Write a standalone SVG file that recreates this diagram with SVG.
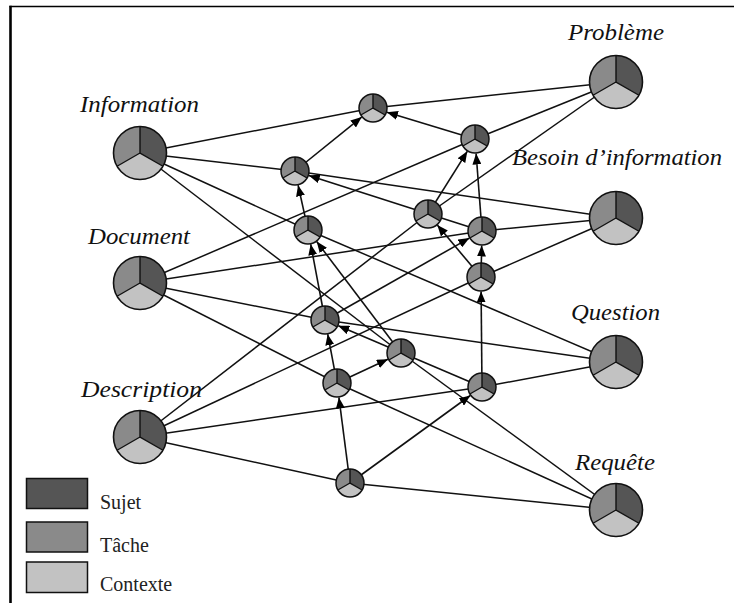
<svg xmlns="http://www.w3.org/2000/svg" xmlns:xlink="http://www.w3.org/1999/xlink" width="734" height="603" viewBox="0 0 734 603">
<style>
.bg{fill:#fff}
.frame{stroke:#000;fill:none}
.ln{stroke:#111;stroke-width:1.5;fill:none}
.ar{stroke:#111;stroke-width:1.6;fill:none;marker-end:url(#ah)}
.s{fill:#555555}
.t{fill:#8a8a8a}
.c{fill:#c2c2c2}
.sep{stroke:#111;stroke-width:1.4;fill:none}
.lab{font-family:"Liberation Serif","Times New Roman",serif;font-style:italic;font-size:24px;fill:#111}
.leg{font-family:"Liberation Serif","Times New Roman",serif;font-size:20px;fill:#222}
.box{stroke:#111;stroke-width:1.5}
</style>
<defs>
<marker id="ah" markerUnits="userSpaceOnUse" markerWidth="11" markerHeight="9" viewBox="0 0 11 9" refX="11" refY="4.5" orient="auto">
<path d="M0,0 L11,4.5 L0,9 Z" fill="#000"/>
</marker>
<g id="big">
<path class="s" d="M0,0 L0,-26.5 A26.5,26.5 0 0,1 22.95,13.25 Z"/>
<path class="c" d="M0,0 L22.95,13.25 A26.5,26.5 0 0,1 -22.95,13.25 Z"/>
<path class="t" d="M0,0 L-22.95,13.25 A26.5,26.5 0 0,1 0,-26.5 Z"/>
<path class="sep" d="M0,-26.5 L0,0 L22.95,13.25 M0,0 L-22.95,13.25"/>
<circle r="26.5" fill="none" stroke="#111" stroke-width="1.6"/>
</g>
<g id="sm">
<path class="s" d="M0,0 L0,-14 A14,14 0 0,1 12.12,7 Z"/>
<path class="c" d="M0,0 L12.12,7 A14,14 0 0,1 -12.12,7 Z"/>
<path class="t" d="M0,0 L-12.12,7 A14,14 0 0,1 0,-14 Z"/>
<path class="sep" d="M0,-14 L0,0 L12.12,7 M0,0 L-12.12,7"/>
<circle r="14" fill="none" stroke="#111" stroke-width="1.5"/>
</g>
</defs>
<rect class="bg" width="734" height="603"/>
<g id="frame">
<line class="frame" x1="9.5" y1="6.5" x2="734" y2="6.5" stroke-width="1.6"/>
<line class="frame" x1="10.5" y1="5.7" x2="10.5" y2="603" stroke-width="2.6"/>
</g>
<g id="connectors">
<line class="ln" x1="140" y1="153" x2="373" y2="108"/>
<line class="ln" x1="140" y1="153" x2="295" y2="171"/>
<line class="ln" x1="140" y1="153" x2="308" y2="230"/>
<line class="ln" x1="140" y1="153" x2="401" y2="353"/>
<line class="ln" x1="140" y1="283" x2="475" y2="139"/>
<line class="ln" x1="140" y1="283" x2="482" y2="231"/>
<line class="ln" x1="140" y1="283" x2="325" y2="320"/>
<line class="ln" x1="140" y1="283" x2="337" y2="383"/>
<line class="ln" x1="140" y1="437" x2="428" y2="214"/>
<line class="ln" x1="140" y1="437" x2="481" y2="277"/>
<line class="ln" x1="140" y1="437" x2="482" y2="387"/>
<line class="ln" x1="140" y1="437" x2="350" y2="483"/>
<line class="ln" x1="616" y1="82" x2="373" y2="108"/>
<line class="ln" x1="616" y1="82" x2="475" y2="139"/>
<line class="ln" x1="616" y1="82" x2="428" y2="214"/>
<line class="ln" x1="616" y1="218" x2="295" y2="171"/>
<line class="ln" x1="616" y1="218" x2="482" y2="231"/>
<line class="ln" x1="616" y1="218" x2="481" y2="277"/>
<line class="ln" x1="616" y1="362" x2="308" y2="230"/>
<line class="ln" x1="616" y1="362" x2="325" y2="320"/>
<line class="ln" x1="616" y1="362" x2="482" y2="387"/>
<line class="ln" x1="616" y1="510" x2="401" y2="353"/>
<line class="ln" x1="616" y1="510" x2="337" y2="383"/>
<line class="ln" x1="616" y1="510" x2="350" y2="483"/>
<line class="ar" x1="295" y1="171" x2="361.7" y2="117.1"/>
<line class="ar" x1="475" y1="139" x2="386.9" y2="112.2"/>
<line class="ar" x1="428" y1="214" x2="467.3" y2="151.3"/>
<line class="ar" x1="482" y1="231" x2="476.1" y2="153.5"/>
<line class="ar" x1="482" y1="231" x2="308.8" y2="175.4"/>
<line class="ar" x1="308" y1="230" x2="298.1" y2="185.2"/>
<line class="ar" x1="481" y1="277" x2="481.7" y2="245.5"/>
<line class="ar" x1="481" y1="277" x2="437.3" y2="225.1"/>
<line class="ar" x1="325" y1="320" x2="310.7" y2="244.2"/>
<line class="ar" x1="325" y1="320" x2="469.4" y2="238.1"/>
<line class="ar" x1="401" y1="353" x2="316.7" y2="241.6"/>
<line class="ar" x1="337" y1="383" x2="327.7" y2="334.2"/>
<line class="ar" x1="337" y1="383" x2="387.9" y2="359.2"/>
<line class="ar" x1="482" y1="387" x2="338.3" y2="325.7"/>
<line class="ar" x1="482" y1="387" x2="481.1" y2="291.5"/>
<line class="ar" x1="350" y1="483" x2="470.3" y2="395.5"/>
<line class="ar" x1="350" y1="483" x2="338.9" y2="397.4"/>
</g>
<g id="n-information"><use xlink:href="#big" x="140" y="153"/><text class="lab" x="80" y="112" textLength="119" lengthAdjust="spacingAndGlyphs">Information</text></g>
<g id="n-document"><use xlink:href="#big" x="140" y="283"/><text class="lab" x="88" y="244" textLength="102" lengthAdjust="spacingAndGlyphs">Document</text></g>
<g id="n-description"><use xlink:href="#big" x="140" y="437"/><text class="lab" x="81" y="397" textLength="121" lengthAdjust="spacingAndGlyphs">Description</text></g>
<g id="n-probleme"><use xlink:href="#big" x="616" y="82"/><text class="lab" x="568" y="40" textLength="96" lengthAdjust="spacingAndGlyphs">Problème</text></g>
<g id="n-besoin"><use xlink:href="#big" x="616" y="218"/><text class="lab" x="512" y="165" textLength="210" lengthAdjust="spacingAndGlyphs">Besoin d’information</text></g>
<g id="n-question"><use xlink:href="#big" x="616" y="362"/><text class="lab" x="571" y="320" textLength="89" lengthAdjust="spacingAndGlyphs">Question</text></g>
<g id="n-requete"><use xlink:href="#big" x="616" y="510"/><text class="lab" x="575" y="470" textLength="80" lengthAdjust="spacingAndGlyphs">Requête</text></g>
<g id="m-info-prob"><use xlink:href="#sm" x="373" y="108"/></g>
<g id="m-doc-prob"><use xlink:href="#sm" x="475" y="139"/></g>
<g id="m-desc-prob"><use xlink:href="#sm" x="428" y="214"/></g>
<g id="m-info-besoin"><use xlink:href="#sm" x="295" y="171"/></g>
<g id="m-doc-besoin"><use xlink:href="#sm" x="482" y="231"/></g>
<g id="m-desc-besoin"><use xlink:href="#sm" x="481" y="277"/></g>
<g id="m-info-question"><use xlink:href="#sm" x="308" y="230"/></g>
<g id="m-doc-question"><use xlink:href="#sm" x="325" y="320"/></g>
<g id="m-desc-question"><use xlink:href="#sm" x="482" y="387"/></g>
<g id="m-info-requete"><use xlink:href="#sm" x="401" y="353"/></g>
<g id="m-doc-requete"><use xlink:href="#sm" x="337" y="383"/></g>
<g id="m-desc-requete"><use xlink:href="#sm" x="350" y="483"/></g>
<g id="legend">
<rect class="box s" x="26.5" y="478.5" width="61" height="30"/>
<rect class="box t" x="26.5" y="522" width="61" height="30"/>
<rect class="box c" x="26.5" y="562" width="61" height="30.5"/>
<text class="leg" x="100" y="509">Sujet</text>
<text class="leg" x="100" y="552">Tâche</text>
<text class="leg" x="100" y="591">Contexte</text>
</g>
</svg>
